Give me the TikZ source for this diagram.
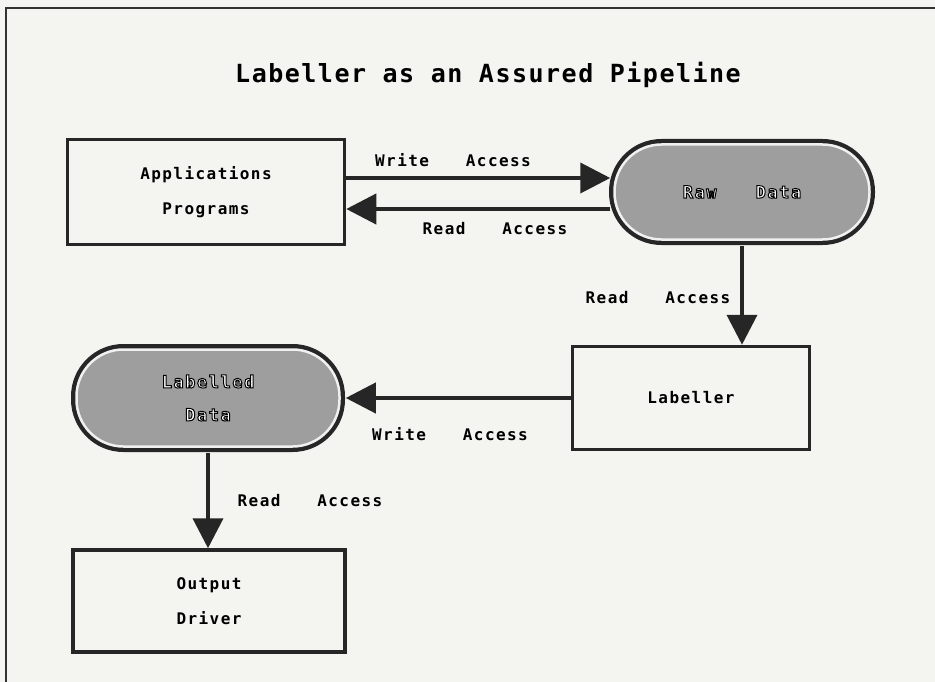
\documentclass[tikz,border=0pt]{standalone}
\usepackage{fontspec}
\usetikzlibrary{arrows.meta}
\newfontfamily\diafont[LetterSpace=9]{DejaVu Sans Mono}
\newfontfamily\headfont[LetterSpace=6]{DejaVu Sans Mono}
\newcommand{\wgap}{\hspace{2.3em}}
% white letters with a dark rim
\newcommand{\rimtext}[1]{\special{pdf:literal direct 2 Tr 1 w 0 G}#1\special{pdf:literal direct 0 Tr}}
\definecolor{paper}{RGB}{244,244,241}
\tikzset{
	procbox/.style={draw=black!85, line width=3.5pt, fill=paper, align=center,
		font=\diafont\bfseries\fontsize{16}{35}\selectfont, inner sep=0pt},
	storebox/.style={fill=black!38, draw=gray!12, line width=2.5pt, rounded corners=47pt,
		preaction={draw=black!85, line width=11pt}, align=center, text=white,
		font=\diafont\bfseries\fontsize{17}{33}\selectfont, inner sep=0pt},
	flow/.style={line width=4pt, draw=black!85, -{Triangle[length=30pt,width=30pt]}},
	flowtext/.style={font=\diafont\bfseries\fontsize{16}{18}\selectfont}
}
\begin{document}
\begin{tikzpicture}[x=1pt, y=-1pt]
				\useasboundingbox (0,0) rectangle (935,682);
				\fill[paper] (0,0) rectangle (935,682);
				\draw[line width=2.5pt, black!80] (6,682) -- (6,8) -- (935,8);

				\node[font=\headfont\bfseries\fontsize{25}{28}\selectfont] (title) at (488,75) {Labeller as an Assured Pipeline};

				\node[procbox, minimum width=277pt, minimum height=105pt] (apps) at (206,192) {Applications\\Programs};
				\node[storebox, minimum width=255pt, minimum height=95pt] (raw) at (742,192) {\rimtext{Raw\wgap Data}};
				\node[procbox, minimum width=237pt, minimum height=103pt] (lab) at (691,398) {Labeller};
				\node[storebox, minimum width=263pt, minimum height=97pt] (ldata) at (208,398) {\rimtext{Labelled}\\\rimtext{Data}};
				\node[procbox, minimum width=272pt, minimum height=102pt] (out) at (209,601) {Output\\Driver};

				\draw[flow] ([yshift=14pt]apps.east) -- ([yshift=14pt,xshift=-3pt]raw.west);
				\draw[flow] ([yshift=-17pt,xshift=-3pt]raw.west) -- ([yshift=-17pt]apps.east);
				\draw[flow] ([yshift=-5pt]raw.south) -- (raw.south |- lab.north);
				\draw[flow] (lab.west) -- ([xshift=5pt]ldata.east);
				\draw[flow] ([yshift=-5pt]ldata.south) -- (ldata.south |- out.north);

				\node[flowtext] (wr1) at (453,160) {Write\wgap Access};
				\node[flowtext] (rd1) at (495,229) {Read\wgap Access};
				\node[flowtext] (rd2) at (658,298) {Read\wgap Access};
				\node[flowtext] (wr2) at (450,434) {Write\wgap Access};
				\node[flowtext] (rd3) at (310,501) {Read\wgap Access};
			\end{tikzpicture}
\end{document}
